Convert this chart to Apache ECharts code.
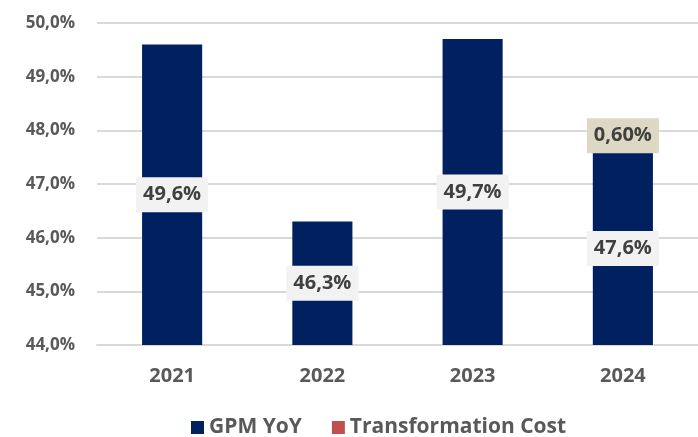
<html>
<head>
<meta charset="UTF-8" />
<script src="https://cdn.jsdelivr.net/npm/echarts@6/dist/echarts.min.js"></script>
</head>
<style type="text/css">
    *{ margin: 0; padding: 0; }
    #chart{ width: 698px; height: 437px; background: #fff; }
</style>
<body>
<div id="chart"></div>
<script type="text/javascript">
    // data
    var years = ['2021', '2022', '2023', '2024'];
    var gpm = [49.6, 46.3, 49.7, 47.6];
    var transformationCost = [null, null, null, 0.6];
    var yTicks = [44, 45, 46, 47, 48, 49, 50];

    var font = 'Open Sans';
    var myChart = echarts.init(document.getElementById('chart'));

    function comma(v, d) {
        return v.toFixed(d).replace('.', ',') + '%';
    }

    var option = {
        animation: false,
        grid: { left: 97, right: -9, top: 23, bottom: 92 },
        legend: {
            bottom: -6,
            left: 186,
            itemWidth: 13,
            itemHeight: 13,
            itemGap: 30,
            icon: 'rect',
            textStyle: { fontFamily: font, fontSize: 21, fontWeight: 'bold', color: '#595959' },
            data: ['GPM YoY', 'Transformation Cost']
        },
        xAxis: {
            type: 'category',
            data: years,
            axisTick: { show: false },
            axisLine: { lineStyle: { color: '#d9d9d9', width: 2 } },
            axisLabel: { margin: 21, fontFamily: font, fontSize: 20, fontWeight: 'bold', color: '#595959' }
        },
        yAxis: {
            type: 'value',
            min: yTicks[0],
            max: yTicks[yTicks.length - 1],
            interval: 1,
            axisLine: { show: false },
            axisTick: { show: false },
            splitLine: { lineStyle: { color: '#d9d9d9', width: 2 } },
            axisLabel: {
                margin: 22,
                fontFamily: font, fontSize: 17, fontWeight: 'bold', color: '#595959',
                formatter: function (v) { return comma(v, 1); }
            }
        },
        series: [{
            name: 'GPM YoY',
            type: 'bar',
            stack: 'a',
            barWidth: '40%',
            data: gpm,
            itemStyle: { color: '#002060' },
            label: {
                show: true,
                position: 'inside',
                fontFamily: font, fontSize: 20, fontWeight: 'bold', color: '#404040',
                backgroundColor: '#f2f2f2',
                padding: [8, 7, 7, 7],
                formatter: function (p) { return comma(p.value, 1); }
            }
        }, {
            name: 'Transformation Cost',
            type: 'bar',
            stack: 'a',
            barWidth: '40%',
            data: transformationCost,
            itemStyle: { color: '#c0504d' },
            label: {
                show: true,
                position: 'inside',
                fontFamily: font, fontSize: 20, fontWeight: 'bold', color: '#404040',
                backgroundColor: '#ddd8c4',
                padding: [8, 7, 7, 7],
                formatter: function (p) { return comma(p.value, 2); }
            }
        }]
    };
    myChart.setOption(option);
</script>
</body>
</html>
